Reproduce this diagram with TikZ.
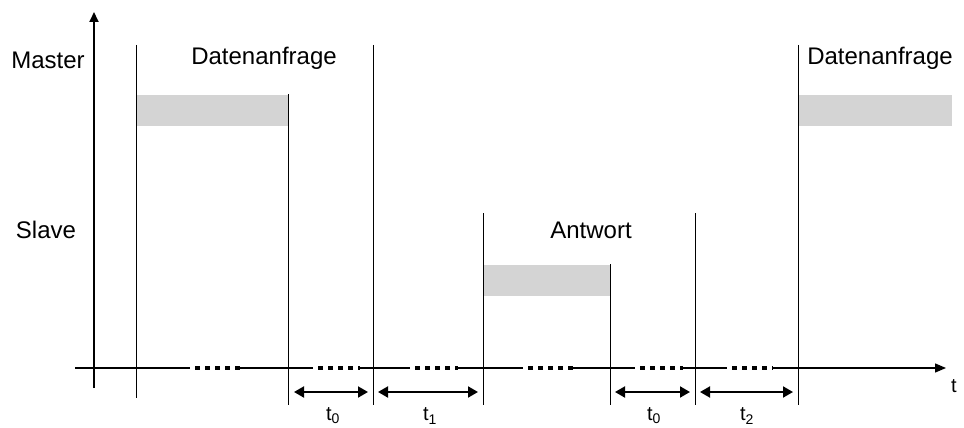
\documentclass[tikz,border=0pt]{standalone}
\usepackage{fontspec}
\setmainfont{Liberation Sans}
\usetikzlibrary{arrows.meta}
\begin{document}
\begin{tikzpicture}[x=1pt,y=-1pt,
  lbl/.style={inner sep=0pt,font=\fontsize{24}{27}\selectfont},
  sublbl/.style={inner sep=0pt,font=\fontsize{20}{23}\selectfont},
  vline/.style={line width=1pt},
  axisline/.style={line width=1.3pt},
  dots/.style={line width=3.2pt,dash pattern=on 5pt off 5pt,dash phase=5pt},
  bar/.style={fill=black!17,draw=none},
  dim/.style={line width=1.9pt,{Triangle[length=10pt,width=11pt]}-{Triangle[length=10pt,width=11pt]}}]
\useasboundingbox (0,0) rectangle (964,428);
% y axis
\coordinate (yb) at (94,388);
\coordinate (yt) at (94,12);
\draw[line width=1.8pt,-{Triangle[length=10pt,width=9pt]}] (yb) -- (yt);
% bars
\fill[bar] (136,95) rectangle (288,126);
\fill[bar] (798,95) rectangle (952,126);
\fill[bar] (483,265) rectangle (610,296);
% time axis segments
\coordinate (a0) at (75,368);
\coordinate (a1) at (190,368);
\coordinate (a2) at (240,368);
\coordinate (a3) at (313,368);
\coordinate (a4) at (360,368);
\coordinate (a5) at (410,368);
\coordinate (a6) at (458,368);
\coordinate (a7) at (523,368);
\coordinate (a8) at (573,368);
\coordinate (a9) at (635,368);
\coordinate (a10) at (683,368);
\coordinate (a11) at (727,368);
\coordinate (a12) at (773,368);
\coordinate (aend) at (946,368);
\draw[axisline] (a0) -- (a1);
\draw[dots] (a1) -- (a2);
\draw[axisline] (a2) -- (a3);
\draw[dots] (a3) -- (a4);
\draw[axisline] (a4) -- (a5);
\draw[dots] (a5) -- (a6);
\draw[axisline] (a6) -- (a7);
\draw[dots] (a7) -- (a8);
\draw[axisline] (a8) -- (a9);
\draw[dots] (a9) -- (a10);
\draw[axisline] (a10) -- (a11);
\draw[dots] (a11) -- (a12);
\draw[axisline,-{Triangle[length=11pt,width=9pt]}] (a12) -- (aend);
% vertical lines
\coordinate (v1t) at (136,45);  \coordinate (v1b) at (136,398);
\coordinate (v2t) at (288,94);  \coordinate (v2b) at (288,405);
\coordinate (v3t) at (373,45);  \coordinate (v3b) at (373,405);
\coordinate (v4t) at (483,213); \coordinate (v4b) at (483,405);
\coordinate (v5t) at (610,264); \coordinate (v5b) at (610,405);
\coordinate (v6t) at (695,213); \coordinate (v6b) at (695,405);
\coordinate (v7t) at (798,45);  \coordinate (v7b) at (798,405);
\foreach \i in {1,...,7} \draw[vline] (v\i t) -- (v\i b);
% dimension arrows
\coordinate (d1a) at (294,392); \coordinate (d1b) at (368,392);
\coordinate (d2a) at (378,392); \coordinate (d2b) at (478,392);
\coordinate (d3a) at (615,392); \coordinate (d3b) at (690,392);
\coordinate (d4a) at (700,392); \coordinate (d4b) at (793,392);
\draw[dim] (d1a) -- (d1b);
\draw[dim] (d2a) -- (d2b);
\draw[dim] (d3a) -- (d3b);
\draw[dim] (d4a) -- (d4b);
% labels
\node[lbl] (master) at (48,60) {Master};
\node[lbl] (slave) at (46,230) {Slave};
\node[lbl] (dat1) at (264,58) {Datenanfrage};
\node[lbl] (dat2) at (880,58) {Datenanfrage};
\node[lbl] (antw) at (591,230) {Antwort};
\node[sublbl] (tl) at (954,386) {t};
\node[sublbl] (t0a) at (333,416) {t\textsubscript{0}};
\node[sublbl] (t1) at (430,416) {t\textsubscript{1}};
\node[sublbl] (t0b) at (654,416) {t\textsubscript{0}};
\node[sublbl] (t2) at (747,416) {t\textsubscript{2}};
\end{tikzpicture}
\end{document}
